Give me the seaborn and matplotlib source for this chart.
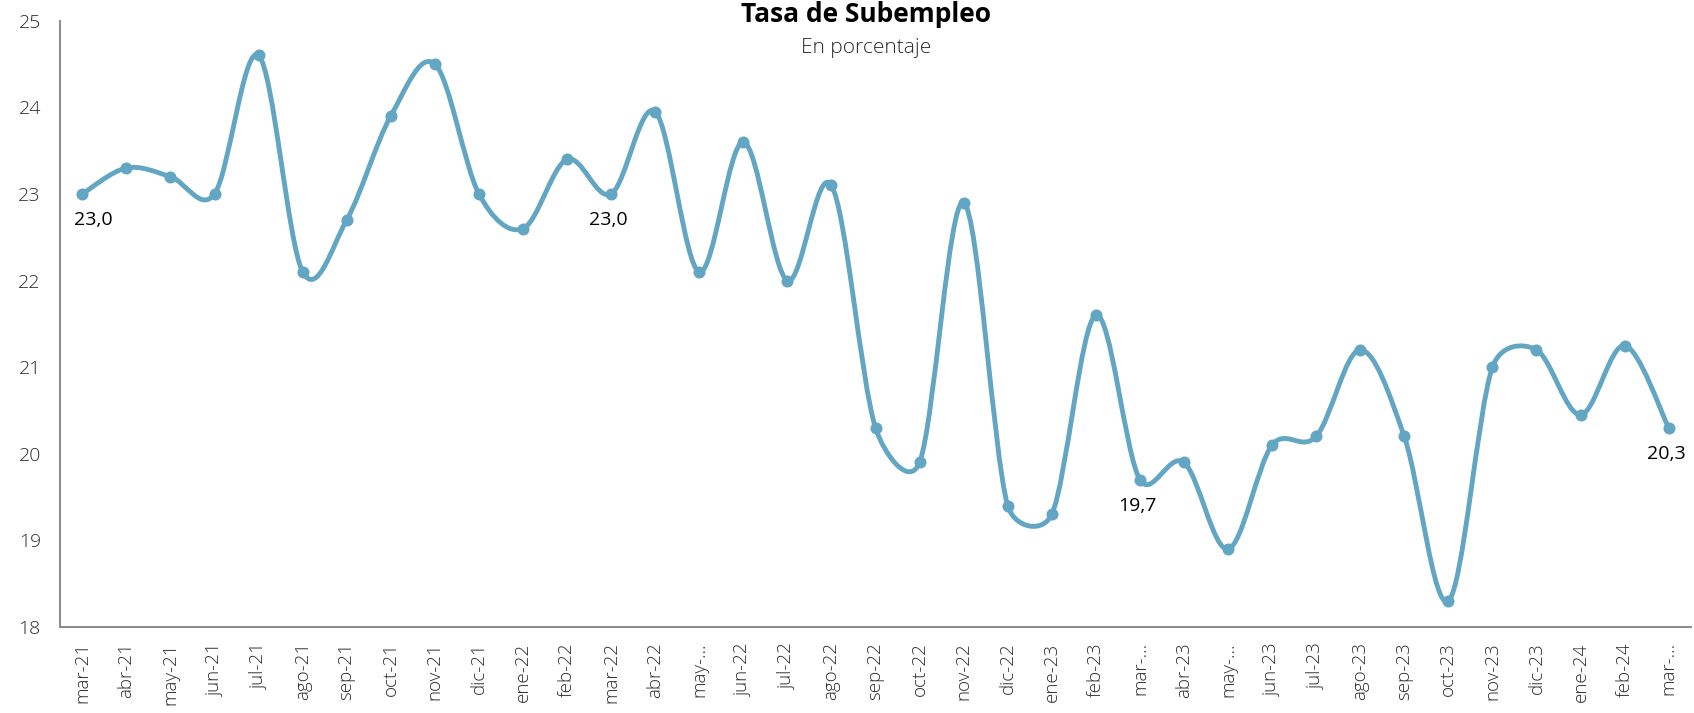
#!/usr/bin/env python3

from __future__ import annotations

import matplotlib

matplotlib.use("Agg")
import matplotlib.pyplot as plt
import numpy as np
import pandas as pd
import seaborn as sns
from matplotlib.patches import PathPatch
from matplotlib.path import Path


MONTHS = [
    "mar-21", "abr-21", "may-21", "jun-21", "jul-21", "ago-21", "sep-21", "oct-21", "nov-21", "dic-21",
    "ene-22", "feb-22", "mar-22", "abr-22", "may-22", "jun-22", "jul-22", "ago-22", "sep-22", "oct-22",
    "nov-22", "dic-22", "ene-23", "feb-23", "mar-23", "abr-23", "may-23", "jun-23", "jul-23", "ago-23",
    "sep-23", "oct-23", "nov-23", "dic-23", "ene-24", "feb-24", "mar-24",
]
# Excel cut some of the rotated labels short
TICK_LABELS = [
    "mar-21", "abr-21", "may-21", "jun-21", "jul-21", "ago-21", "sep-21", "oct-21", "nov-21", "dic-21",
    "ene-22", "feb-22", "mar-22", "abr-22", "may-…", "jun-22", "jul-22", "ago-22", "sep-22", "oct-22",
    "nov-22", "dic-22", "ene-23", "feb-23", "mar-…", "abr-23", "may-…", "jun-23", "jul-23", "ago-23",
    "sep-23", "oct-23", "nov-23", "dic-23", "ene-24", "feb-24", "mar-…",
]
TASA = [
    23.0, 23.3, 23.2, 23.0, 24.6, 22.1, 22.7, 23.9, 24.5, 23.0,
    22.6, 23.4, 23.0, 23.95, 22.1, 23.6, 22.0, 23.1, 20.3, 19.9,
    22.9, 19.4, 19.3, 21.6, 19.7, 19.9, 18.9, 20.1, 20.2, 21.2,
    20.2, 18.3, 21.0, 21.2, 20.45, 21.25, 20.3,
]
LABELED_MONTHS = ["mar-21", "mar-22", "mar-23", "mar-24"]
Y_TICKS = [18, 19, 20, 21, 22, 23, 24, 25]

LINE_COLOR = "#62A6C3"
AXIS_COLOR = "#8A8A8A"
TEXT_COLOR = "#2B2B2B"
FONT = ["Open Sans", "DejaVu Sans"]


def apply_style() -> None:
    sns.set_theme(style="white")
    plt.rcParams.update(
        {
            "font.family": FONT,
            "figure.facecolor": "white",
            "axes.facecolor": "white",
            "axes.linewidth": 1.4,
            "axes.edgecolor": AXIS_COLOR,
            "axes.spines.right": False,
            "axes.spines.top": False,
        }
    )


def bezier_path(points: np.ndarray) -> Path:
    # Excel-like smoothing, worked out in pixel space; control arms are
    # capped at half the segment so flat stretches don't bulge
    padded = np.vstack([points[0], points, points[-1]])
    verts = [points[0]]
    codes = [Path.MOVETO]
    for i in range(len(points) - 1):
        p0, p1, p2, p3 = padded[i], padded[i + 1], padded[i + 2], padded[i + 3]
        d12 = np.linalg.norm(p2 - p1)
        d02 = np.linalg.norm(p2 - p0)
        d13 = np.linalg.norm(p3 - p1)
        f1 = 1 / 6 if d02 / 6 <= d12 / 2 else d12 / (2 * d02)
        f2 = 1 / 6 if d13 / 6 <= d12 / 2 else d12 / (2 * d13)
        verts += [p1 + (p2 - p0) * f1, p2 - (p3 - p1) * f2, p2]
        codes += [Path.CURVE4] * 3
    return Path(verts, codes)


def plot_series(ax: plt.Axes, frame: pd.DataFrame) -> None:
    data_points = frame[["pos", "tasa"]].to_numpy(dtype=float)
    pixels = ax.transData.transform(data_points)
    curve = bezier_path(pixels)
    ax.add_patch(
        PathPatch(
            ax.transData.inverted().transform_path(curve),
            facecolor="none",
            edgecolor=LINE_COLOR,
            lw=3.5,
            capstyle="round",
            joinstyle="round",
            zorder=2,
        )
    )
    sns.scatterplot(data=frame, x="pos", y="tasa", s=75, color=LINE_COLOR, linewidth=0, ax=ax, zorder=3)

    for _, row in frame[frame["month"].isin(LABELED_MONTHS)].iterrows():
        dx = 8 if row["pos"] == 0 else -2
        ax.annotate(
            f"{row['tasa']:.1f}".replace(".", ","),
            (row["pos"], row["tasa"]),
            xytext=(dx, -19),
            textcoords="offset points",
            ha="center",
            va="center",
            fontsize=14,
            color="black",
        )


def style_axis(ax: plt.Axes) -> None:
    ax.set_xlim(-0.5, len(MONTHS) - 0.5)
    ax.set_ylim(Y_TICKS[0], Y_TICKS[-1])
    ax.set_yticks(Y_TICKS)
    ax.set_yticklabels([str(v) for v in Y_TICKS], fontsize=14, fontweight=300, color=TEXT_COLOR)
    ax.set_xticks(np.arange(len(MONTHS)))
    ax.set_xticklabels(TICK_LABELS, rotation=90, fontsize=13.5, fontweight=300, color=TEXT_COLOR)
    ax.set_xticks(np.arange(len(MONTHS) + 1) - 0.5, minor=True)
    ax.tick_params(axis="x", which="major", length=0, pad=11)
    ax.tick_params(axis="x", which="minor", length=4.5, width=1.4, color=AXIS_COLOR, direction="out")
    ax.tick_params(axis="y", length=5, width=1.4, color=AXIS_COLOR, direction="out", pad=9)
    ax.grid(False)


def main() -> None:
    apply_style()
    frame = pd.DataFrame({"month": MONTHS, "tasa": TASA})
    frame["pos"] = np.arange(len(frame))

    figure = plt.figure(figsize=(16.94, 7.13), dpi=100)
    ax = figure.add_axes([60.3 / 1694, 1 - 627 / 713, (1690.7 - 60.3) / 1694, (627 - 20.7) / 713])
    # limits first, so the pixel-space smoothing uses the final scales
    style_axis(ax)
    plot_series(ax, frame)
    ax.set_xlim(-0.5, len(MONTHS) - 0.5)
    ax.set_ylim(Y_TICKS[0], Y_TICKS[-1])
    ax.set_xlabel("")
    ax.set_ylabel("")

    figure.text(0.511, 1 - 21.5 / 713, "Tasa de Subempleo", ha="center", va="baseline",
                fontsize=19, fontweight="bold", color="black")
    figure.text(0.511, 1 - 52.5 / 713, "En porcentaje", ha="center", va="baseline",
                fontsize=15, fontweight=300, color=TEXT_COLOR)

    figure.savefig("out.png", dpi=100)
    plt.close(figure)


if __name__ == "__main__":
    main()
